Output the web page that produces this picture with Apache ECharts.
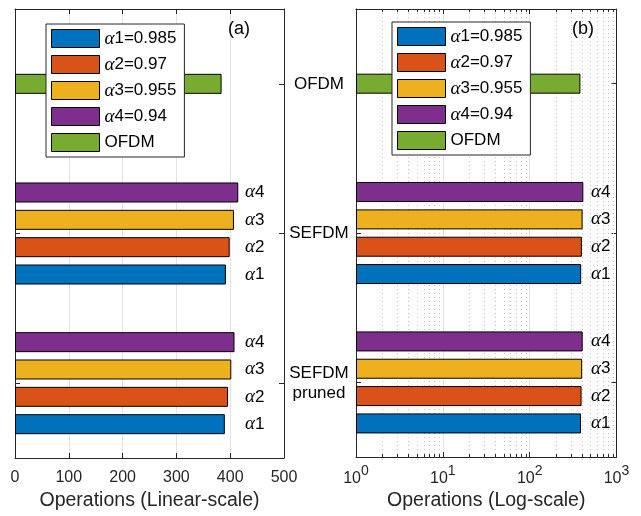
<!DOCTYPE html>
<html><head><meta charset="utf-8">
<script src="https://cdn.jsdelivr.net/npm/echarts@6/dist/echarts.min.js"></script>
<style>html,body{margin:0;padding:0;background:#fff}#c{width:641px;height:516px}</style>
</head><body><div id="c"></div>
<script>
// ---- data ----
const categories = ['SEFDM\npruned', 'SEFDM', 'OFDM'];
const alpha1Ops = [390, 392, null];
const alpha2Ops = [396, 399, null];
const alpha3Ops = [402, 407, null];
const alpha4Ops = [408, 415, null];
const ofdmOps = [null, null, 384];
const seriesNames = ['α1=0.985', 'α2=0.97', 'α3=0.955', 'α4=0.94', 'OFDM'];
const barTags = ['α1', 'α2', 'α3', 'α4'];
const linearTicks = [0, 100, 200, 300, 400, 500];
const logTicks = [1, 10, 100, 1000];
const logMinorTicks = [2, 3, 4, 5, 6, 7, 8, 9, 20, 30, 40, 50, 60, 70, 80, 90, 200, 300, 400, 500, 600, 700, 800, 900];
const colors = ['#0072BD', '#D95319', '#EDB120', '#7E2F8E', '#77AC30'];
const alphaData = [alpha1Ops, alpha2Ops, alpha3Ops, alpha4Ops];

// ---- styles ----
const FONT = 'Liberation Sans';
const INK = '#262626';
const greek = {fontFamily: 'Liberation Serif', fontStyle: 'italic', fontSize: 19, color: '#000'};
const plain = {fontFamily: FONT, fontSize: 17, color: '#000'};

const chart = echarts.init(document.getElementById('c'));

function alphaSeries(xi, yi, labelOffset) {
  // series listed from α4 to α1 so that α1 sits at the bottom of each group
  const out = [];
  for (let i = alphaData.length - 1; i >= 0; i--) {
    out.push({
      type: 'bar', name: seriesNames[i], xAxisIndex: xi, yAxisIndex: yi,
      data: alphaData[i], barWidth: 20, barGap: '36.7%',
      itemStyle: {color: colors[i], borderColor: '#000', borderWidth: 1},
      label: {
        show: true, position: [labelOffset, '50%'], align: 'left', verticalAlign: 'middle',
        formatter: '{a|α}{n|' + barTags[i].slice(1) + '}',
        rich: {a: greek, n: plain}
      },
      emphasis: {disabled: true}, animation: false
    });
  }
  return out;
}
function ofdmSeries(xi, yi) {
  return {
    type: 'bar', name: seriesNames[4], xAxisIndex: xi, yAxisIndex: yi,
    data: ofdmOps, barWidth: 20,
    itemStyle: {color: colors[4], borderColor: '#000', borderWidth: 1},
    emphasis: {disabled: true}, animation: false
  };
}
const minorSeries = {
  type: 'custom', xAxisIndex: 2, yAxisIndex: 2, silent: true, z: 1, animation: false,
  data: logMinorTicks.map(v => [v, 0]), encode: {x: 0, y: 1},
  renderItem: function (params, api) {
    const x = Math.round(api.coord([api.value(0), 0])[0]) + 0.5;
    const cs = params.coordSys;
    const top = cs.y, bottom = cs.y + cs.height;
    return {type: 'group', children: [
      {type: 'line', shape: {x1: x, y1: top, x2: x, y2: bottom}, style: {stroke: '#c4c4c4', lineDash: [1, 3], lineWidth: 1}},
      {type: 'line', shape: {x1: x, y1: bottom, x2: x, y2: bottom - 3}, style: {stroke: INK, lineWidth: 1}},
      {type: 'line', shape: {x1: x, y1: top, x2: x, y2: top + 3}, style: {stroke: INK, lineWidth: 1}}
    ]};
  }
};

function legendAt(left, top) {
  return {
    left: left, top: top, orient: 'vertical', align: 'left',
    data: seriesNames, itemWidth: 48, itemHeight: 18, itemGap: 7,
    padding: [5, 8, 5, 5], backgroundColor: '#fff', borderColor: INK, borderWidth: 1,
    icon: 'rect', selectedMode: false,
    itemStyle: {borderColor: '#000', borderWidth: 1},
    textStyle: {fontFamily: FONT, fontSize: 17, color: '#000', lineHeight: 18,
      rich: {a: greek, n: plain}},
    formatter: name => name.charAt(0) === 'α' ? '{a|α}{n|' + name.slice(1) + '}' : '{n|' + name + '}'
  };
}

const axisLine = {show: true, onZero: false, lineStyle: {color: INK, width: 1}};
const tickIn = {show: true, inside: true, length: 5, lineStyle: {color: INK}};
const catTick = {show: true, inside: true, length: 5, alignWithLabel: true, lineStyle: {color: INK}};
const axisLabel = {fontFamily: FONT, fontSize: 16, color: INK, margin: 12};
const nameStyle = {fontFamily: FONT, fontSize: 19.5, color: INK};

chart.setOption({
  backgroundColor: '#fff',
  animation: false,
  textStyle: {fontFamily: FONT},
  title: [
    {text: '(a)', left: 228, top: 20, padding: 0, textStyle: {fontFamily: FONT, fontSize: 18, fontWeight: 'normal', color: '#000'}},
    {text: '(b)', left: 572, top: 20, padding: 0, textStyle: {fontFamily: FONT, fontSize: 18, fontWeight: 'normal', color: '#000'}}
  ],
  legend: [legendAt(46, 24), legendAt(392, 22)],
  grid: [
    {left: 15, top: 9, width: 269, height: 451, containLabel: false},
    {left: 356, top: 9, width: 260.5, height: 451, containLabel: false}
  ],
  xAxis: [
    {type: 'value', gridIndex: 0, position: 'bottom', min: linearTicks[0], max: linearTicks[linearTicks.length - 1],
      interval: linearTicks[1] - linearTicks[0],
      axisLine: axisLine, axisTick: tickIn, axisLabel: axisLabel,
      splitLine: {show: true, lineStyle: {color: '#e3e3e3', width: 1}},
      name: 'Operations (Linear-scale)', nameLocation: 'middle', nameGap: 33, nameTextStyle: nameStyle},
    {type: 'value', gridIndex: 0, position: 'top', min: linearTicks[0], max: linearTicks[linearTicks.length - 1],
      interval: linearTicks[1] - linearTicks[0],
      axisLine: axisLine, axisTick: tickIn, axisLabel: {show: false}, splitLine: {show: false}},
    {type: 'log', logBase: 10, gridIndex: 1, position: 'bottom', min: logTicks[0], max: logTicks[logTicks.length - 1],
      splitNumber: 3,
      axisLine: axisLine, axisTick: tickIn,
      axisLabel: {margin: 7, formatter: v => '{b|10}{s|' + Math.round(Math.log10(v)) + '}',
        rich: {b: {fontFamily: FONT, fontSize: 16, color: INK, padding: [6, 0, 0, 0]},
               s: {fontFamily: FONT, fontSize: 14, color: INK, verticalAlign: 'top'}}},
      splitLine: {show: true, lineStyle: {color: '#e3e3e3', width: 1}},
      name: 'Operations (Log-scale)', nameLocation: 'middle', nameGap: 33, nameTextStyle: nameStyle},
    {type: 'log', logBase: 10, gridIndex: 1, position: 'top', min: logTicks[0], max: logTicks[logTicks.length - 1],
      splitNumber: 3,
      axisLine: axisLine, axisTick: tickIn, axisLabel: {show: false}, splitLine: {show: false}}
  ],
  yAxis: [
    {type: 'category', gridIndex: 0, position: 'left', data: categories,
      axisLine: axisLine, axisTick: catTick, axisLabel: {show: false}, splitLine: {show: false}},
    {type: 'category', gridIndex: 0, position: 'right', data: categories,
      axisLine: axisLine, axisTick: catTick, splitLine: {show: false},
      axisLabel: {show: true, align: 'center', margin: 35, fontFamily: FONT, fontSize: 17, lineHeight: 20, color: '#000'}},
    {type: 'category', gridIndex: 1, position: 'left', data: categories,
      axisLine: axisLine, axisTick: catTick, axisLabel: {show: false}, splitLine: {show: false}},
    {type: 'category', gridIndex: 1, position: 'right', data: categories,
      axisLine: axisLine, axisTick: catTick, axisLabel: {show: false}, splitLine: {show: false}}
  ],
  series: [].concat(
    alphaSeries(0, 0, 230),
    [ofdmSeries(0, 1)],
    alphaSeries(2, 2, 235),
    [ofdmSeries(2, 3)],
    [minorSeries]
  )
});
</script>
</body></html>
